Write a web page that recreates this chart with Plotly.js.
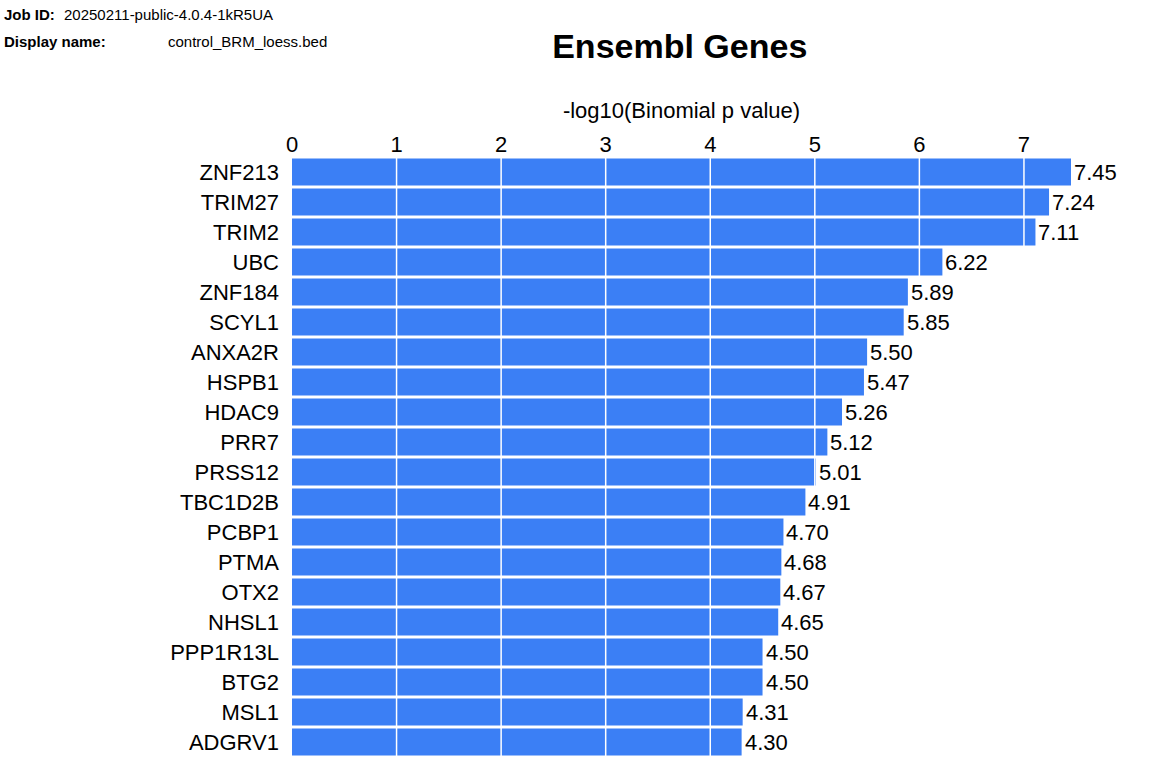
<!DOCTYPE html>
<html>
<head>
<meta charset="utf-8">
<script src="https://cdn.plot.ly/plotly-3.0.1.min.js"></script>
<style>body{margin:0;background:#fff}#chart{width:1158px;height:776px}</style>
</head>
<body>
<div id="chart"></div>
<script>
const genes = ['ZNF213','TRIM27','TRIM2','UBC','ZNF184','SCYL1','ANXA2R','HSPB1','HDAC9','PRR7',
  'PRSS12','TBC1D2B','PCBP1','PTMA','OTX2','NHSL1','PPP1R13L','BTG2','MSL1','ADGRV1'];
const scores = [7.45,7.24,7.11,6.22,5.89,5.85,5.50,5.47,5.26,5.12,
  5.01,4.91,4.70,4.68,4.67,4.65,4.50,4.50,4.31,4.30];
const tickVals = [0,1,2,3,4,5,6,7];

const FONT = 'Liberation Sans, Arial, sans-serif';

const trace = {
  type: 'bar',
  orientation: 'h',
  x: scores,
  y: genes,
  marker: { color: '#3b7ff5' },
  hoverinfo: 'skip',
};

// white grid lines drawn over the bars
const gridShapes = tickVals.slice(1).map(t => ({
  type: 'line', xref: 'x', yref: 'paper',
  x0: t, x1: t, y0: 0, y1: 1,
  line: { color: '#ffffff', width: 1.5 },
  layer: 'above',
}));

// value labels as annotations so they sit above the grid lines
const valueLabels = scores.map((v, i) => ({
  xref: 'x', yref: 'y', x: v, y: genes[i],
  text: v.toFixed(2), showarrow: false,
  xanchor: 'left', yanchor: 'middle', xshift: 1,
  bgcolor: '#fff',
  font: { size: 22, color: '#000', family: FONT },
}));

const headerText = [
  { x: -0.372, y: 1.237, text: '<b>Job ID:</b>' },
  { x: -0.295, y: 1.237, text: '20250211-public-4.0.4-1kR5UA' },
  { x: -0.372, y: 1.193, text: '<b>Display name:</b>' },
  { x: -0.162, y: 1.193, text: 'control_BRM_loess.bed' },
].map(a => ({
  xref: 'paper', yref: 'paper', x: a.x, y: a.y, text: a.text,
  xanchor: 'left', yanchor: 'middle', showarrow: false,
  font: { size: 15, color: '#000', family: FONT },
}));

const layout = {
  width: 1158, height: 776,
  paper_bgcolor: '#fff', plot_bgcolor: '#fff',
  margin: { t: 157, r: 87, b: 19, l: 292 },
  font: { family: FONT, color: '#000' },
  showlegend: false,
  bargap: 0.1,
  title: {
    text: '<b>Ensembl Genes</b>',
    font: { size: 34, family: FONT, color: '#000' },
    x: 0.587, xanchor: 'center', y: 0.94, yanchor: 'middle',
  },
  xaxis: {
    side: 'top', range: [0, 7.45],
    tickvals: tickVals, ticks: '',
    tickfont: { size: 22 },
    showgrid: false, zeroline: false, showline: false,
    title: { text: '-log10(Binomial p value)', font: { size: 22 }, standoff: 6 },
    fixedrange: true,
  },
  yaxis: {
    autorange: 'reversed', ticks: '', ticklabelstandoff: 12,
    tickfont: { size: 22 }, showgrid: false, zeroline: false,
    fixedrange: true,
  },
  shapes: gridShapes,
  annotations: headerText.concat(valueLabels),
};

Plotly.newPlot('chart', [trace], layout, { displayModeBar: false, staticPlot: true });
</script>
</body>
</html>
